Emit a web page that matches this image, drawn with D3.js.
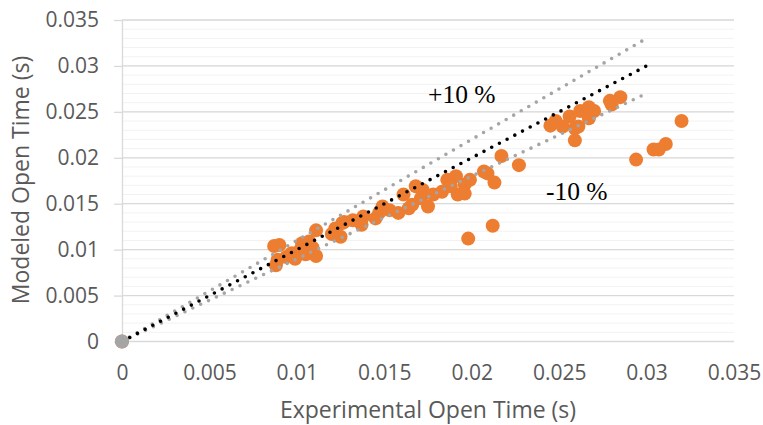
<!DOCTYPE html>
<html>
<head>
<meta charset="utf-8">
<script src="https://cdn.jsdelivr.net/npm/d3@7"></script>
<style>
  body { margin: 0; background: #fff; }
  text { font-family: "Open Sans", sans-serif; }
</style>
</head>
<body>
<div id="chart"></div>
<script>
// experimental vs modeled open time, seconds
var expTime = [
  0, 0.0087, 0.0090, 0.0089, 0.0088, 0.0094, 0.0097, 0.0102, 0.0103, 0.0107,
  0.0109, 0.0111, 0.0111, 0.0105, 0.0122, 0.0125, 0.0127, 0.0099, 0.0120,
  0.0126, 0.0132, 0.0138, 0.0137, 0.0147, 0.0149, 0.0145, 0.0153, 0.0158,
  0.0161, 0.0166, 0.0168, 0.0172, 0.0171, 0.0175, 0.0178, 0.0183, 0.0186,
  0.0191, 0.0192, 0.0196, 0.0188, 0.0164,
  0.0199, 0.0207, 0.0209, 0.0213, 0.0196, 0.0217, 0.0227, 0.0198, 0.0212,
  0.0245, 0.0248, 0.0252, 0.0256, 0.0259, 0.0261, 0.0259, 0.0262, 0.0267,
  0.0270, 0.0267, 0.0279, 0.0285, 0.0280,
  0.0294, 0.0304, 0.0307, 0.0311, 0.0320
]
var modTime = [
  0, 0.0104, 0.0105, 0.0089, 0.0083, 0.0092, 0.0096, 0.0100, 0.0107, 0.0109,
  0.0102, 0.0093, 0.0121, 0.0095, 0.0123, 0.0114, 0.0130, 0.0090, 0.0117,
  0.0129, 0.0132, 0.0136, 0.0127, 0.0140, 0.0147, 0.0134, 0.0143, 0.0140,
  0.0160, 0.0149, 0.0169, 0.0165, 0.0156, 0.0147, 0.0160, 0.0163, 0.0176,
  0.0180, 0.0160, 0.0171, 0.0169, 0.0145,
  0.0176, 0.0185, 0.0183, 0.0173, 0.0161, 0.0202, 0.0192, 0.0112, 0.0126,
  0.0235, 0.0240, 0.0234, 0.0245, 0.0232, 0.0234, 0.0219, 0.0251, 0.0255,
  0.0251, 0.0243, 0.0262, 0.0266, 0.0258,
  0.0198, 0.0209, 0.0209, 0.0215, 0.0240
]

// reference lines: ideal, +10 %, -10 %
var refX = [0, 0.03]
var refIdeal = [0, 0.03]
var refPlus = [0, 0.033]
var refMinus = [0, 0.027]

var ticks = [0, 0.005, 0.01, 0.015, 0.02, 0.025, 0.03, 0.035]
var minorTicks = d3.range(0, 36).map(function(i) { return i / 1000 })

var width = 763, height = 425
  , xScale = d3.scaleLinear().domain([0, 0.035]).range([122, 734])
  , yScale = d3.scaleLinear().domain([0, 0.035]).range([341.5, 20])
  , fmt = function(d) { return String(+d.toFixed(3)) }
  , svg = d3.select('#chart').append('svg')
    .attr('width', width)
    .attr('height', height)

// minor gridlines
svg.append('g').selectAll('line').data(minorTicks).enter().append('line')
  .attr('x1', xScale(0)).attr('x2', xScale(0.035))
  .attr('y1', function(d) { return yScale(d) })
  .attr('y2', function(d) { return yScale(d) })
  .attr('stroke', '#f2f2f2')
  .attr('stroke-width', 1)

// major gridlines
svg.append('g').selectAll('line').data(ticks).enter().append('line')
  .attr('x1', xScale(0)).attr('x2', xScale(0.035))
  .attr('y1', function(d) { return yScale(d) })
  .attr('y2', function(d) { return yScale(d) })
  .attr('stroke', '#d9d9d9')
  .attr('stroke-width', 1.3)

// y axis
var yAxis = svg.append('g')
  .attr('transform', 'translate(' + xScale(0) + ',0)')
  .call(d3.axisLeft(yScale).tickValues(ticks).tickFormat(fmt)
    .tickSize(8).tickSizeOuter(0).tickPadding(15))
yAxis.select('.domain').attr('stroke', '#d9d9d9').attr('stroke-width', 1.3)
yAxis.selectAll('.tick line').attr('stroke', '#d9d9d9').attr('stroke-width', 1.3)
yAxis.selectAll('.tick text')
  .attr('fill', '#595959')
  .style('font-size', '21px')
  .style('font-family', '"Open Sans", sans-serif')

// x axis
var xAxis = svg.append('g')
  .attr('transform', 'translate(0,' + yScale(0) + ')')
  .call(d3.axisBottom(xScale).tickValues(ticks).tickFormat(fmt)
    .tickSize(0).tickPadding(24))
xAxis.select('.domain').remove()
xAxis.selectAll('.tick text')
  .attr('fill', '#595959')
  .style('font-size', '21px')
  .style('font-family', '"Open Sans", sans-serif')

// axis titles
svg.append('text')
  .attr('x', 428).attr('y', 418)
  .attr('text-anchor', 'middle')
  .attr('fill', '#595959')
  .style('font-size', '23px')
  .text('Experimental Open Time (s)')

svg.append('text')
  .attr('transform', 'translate(29,180) rotate(-90)')
  .attr('text-anchor', 'middle')
  .attr('fill', '#595959')
  .style('font-size', '23px')
  .text('Modeled Open Time (s)')

// data points
svg.append('g').selectAll('circle').data(expTime).enter().append('circle')
  .attr('cx', function(d) { return xScale(d) })
  .attr('cy', function(d, i) { return yScale(modTime[i]) })
  .attr('r', 7)
  .attr('fill', '#ed7d31')

// dotted reference lines
var line = d3.line()
  .x(function(d) { return xScale(d[0]) })
  .y(function(d) { return yScale(d[1]) })

;[[refPlus, '#a5a5a5'], [refMinus, '#a5a5a5'], [refIdeal, '#000']].forEach(function(r) {
  svg.append('path')
    .datum(refX.map(function(x, i) { return [x, r[0][i]] }))
    .attr('d', line)
    .attr('fill', 'none')
    .attr('stroke', r[1])
    .attr('stroke-width', 3.6)
    .attr('stroke-linecap', 'round')
    .attr('stroke-dasharray', '0 8.7')
})

// marker at origin
svg.append('circle')
  .attr('cx', xScale(0))
  .attr('cy', yScale(0))
  .attr('r', 7)
  .attr('fill', '#a5a5a5')

// band labels
svg.append('text')
  .attr('x', 428).attr('y', 103)
  .style('font-family', '"Liberation Serif", "Times New Roman", serif')
  .style('font-size', '25.5px')
  .attr('fill', '#000')
  .text('+10 %')

svg.append('text')
  .attr('x', 546).attr('y', 200)
  .style('font-family', '"Liberation Serif", "Times New Roman", serif')
  .style('font-size', '25.5px')
  .attr('fill', '#000')
  .text('-10 %')
</script>
</body>
</html>
